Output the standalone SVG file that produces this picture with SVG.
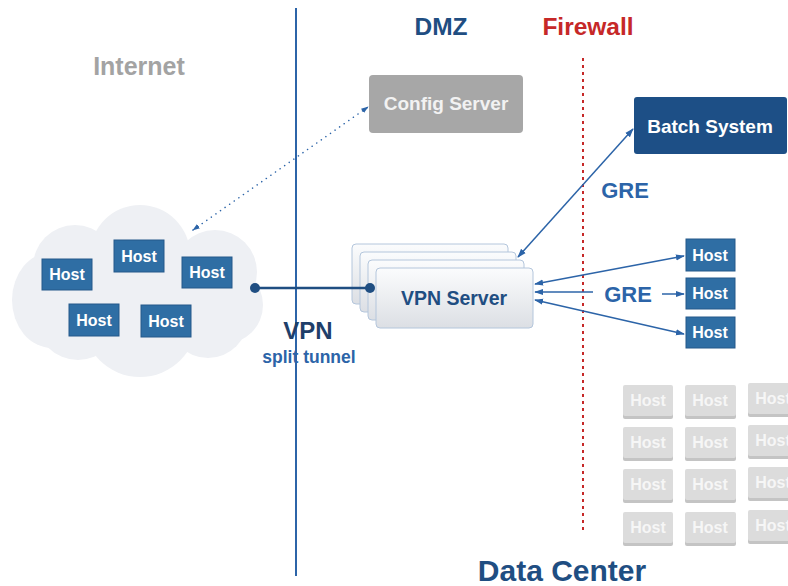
<svg xmlns="http://www.w3.org/2000/svg" width="788" height="586" viewBox="0 0 788 586">
<defs>
<style>
text{font-family:"Liberation Sans",Arial,sans-serif;font-weight:bold;text-anchor:middle}
.host rect{fill:#2f6ea4;stroke:#24598a;stroke-width:1}
.host text{fill:#fff;font-size:16px}
.ghost rect{fill:#dcdcdc}
.ghost .sh{fill:#c4c4c4}
.ghost text{fill:#f6f6f6;font-size:16px}
.conn{stroke:#2c64a8;stroke-width:1.5;fill:none}
.vpnbox{fill:url(#vg);stroke:#b4c6dc;stroke-width:1}
.cloud{fill:#eef0f4}
</style>
<linearGradient id="vg" x1="0" y1="0" x2="0" y2="1">
<stop offset="0" stop-color="#fbfcfd"/>
<stop offset="1" stop-color="#dcdfe4"/>
</linearGradient>
<marker id="ah" viewBox="0 0 10 10" refX="9" refY="5" markerWidth="6" markerHeight="6" orient="auto-start-reverse">
<path d="M0,1.5 L10,5 L0,8.5 z" fill="#2c64a8"/>
</marker>
<marker id="ahd" viewBox="0 0 10 10" refX="9" refY="5" markerWidth="5" markerHeight="5" orient="auto-start-reverse">
<path d="M0,1.5 L10,5 L0,8.5 z" fill="#2c64a8"/>
</marker>
<marker id="dot" viewBox="0 0 10 10" refX="5" refY="5" markerWidth="4" markerHeight="4">
<circle cx="5" cy="5" r="5" fill="#1f4e82"/>
</marker>
</defs>
<rect width="788" height="586" fill="#fff"/>

<g id="boundaries">
<line x1="296" y1="8" x2="296" y2="576" stroke="#2c64a8" stroke-width="2"/>
<line x1="583" y1="58" x2="583" y2="530" stroke="#c62828" stroke-width="2" stroke-dasharray="3,4"/>
</g>

<g id="labels">
<text x="139" y="75" font-size="25" fill="#a3a3a3">Internet</text>
<text x="441" y="35" font-size="24.5" fill="#1f4e82">DMZ</text>
<text x="588" y="35" font-size="24.5" fill="#c62828">Firewall</text>
<text x="562" y="581" font-size="30" fill="#1f4e82">Data Center</text>
<text x="308" y="339" font-size="24" fill="#1f3f6a">VPN</text>
<text x="309" y="363" font-size="17.5" fill="#2c64a8">split tunnel</text>
<text x="625" y="198" font-size="22" fill="#2c64a8">GRE</text>
<text x="628" y="302" font-size="22" fill="#2c64a8">GRE</text>
</g>

<g id="internet-cloud" class="cloud">
<circle cx="140" cy="255" r="50"/>
<circle cx="75" cy="267" r="42"/>
<ellipse cx="52" cy="300" rx="40" ry="48"/>
<circle cx="215" cy="272" r="42"/>
<circle cx="224" cy="305" r="39"/>
<circle cx="140" cy="320" r="57"/>
<circle cx="78" cy="318" r="42"/>
<circle cx="208" cy="318" r="40"/>
<rect x="40" y="260" width="200" height="60"/>
</g>

<g id="cloud-host-1" class="host"><rect x="42" y="259" width="50" height="31"/><text x="67" y="280">Host</text></g>
<g id="cloud-host-2" class="host"><rect x="114" y="240" width="50" height="32"/><text x="139" y="262">Host</text></g>
<g id="cloud-host-3" class="host"><rect x="182" y="257" width="50" height="31"/><text x="207" y="278">Host</text></g>
<g id="cloud-host-4" class="host"><rect x="69" y="304" width="50" height="32"/><text x="94" y="326">Host</text></g>
<g id="cloud-host-5" class="host"><rect x="141" y="305" width="50" height="32"/><text x="166" y="327">Host</text></g>

<g id="config-server">
<rect x="369" y="75" width="154" height="58" rx="4" fill="#a7a7a7"/>
<text x="446" y="110" font-size="19" fill="#f2f2f2">Config Server</text>
</g>

<g id="vpn-server">
<rect class="vpnbox" x="352" y="244" width="156" height="60" rx="4"/>
<rect class="vpnbox" x="360" y="252" width="156" height="60" rx="4"/>
<rect class="vpnbox" x="368" y="260" width="156" height="60" rx="4"/>
<rect class="vpnbox" x="376" y="268" width="157" height="60" rx="4"/>
<text x="454" y="305" font-size="19.5" fill="#1f4e82">VPN Server</text>
</g>

<g id="batch-system">
<rect x="634" y="97" width="153" height="57" rx="3" fill="#1d4f86"/>
<text x="710" y="133" font-size="19" fill="#fff">Batch System</text>
</g>

<g id="dc-host-1" class="host"><rect x="686" y="239" width="49" height="32"/><text x="710" y="261">Host</text></g>
<g id="dc-host-2" class="host"><rect x="686" y="278" width="49" height="31"/><text x="710" y="299">Host</text></g>
<g id="dc-host-3" class="host"><rect x="686" y="317" width="49" height="31"/><text x="710" y="338">Host</text></g>

<g id="idle-hosts" class="ghost">
<g><rect class="sh" x="623" y="387" width="50" height="32" rx="2"/><rect x="623" y="385" width="50" height="31" rx="2"/><text x="648" y="406">Host</text></g>
<g><rect class="sh" x="685" y="387" width="51" height="32" rx="2"/><rect x="685" y="385" width="51" height="31" rx="2"/><text x="710" y="406">Host</text></g>
<g><rect class="sh" x="748" y="385" width="50" height="32" rx="2"/><rect x="748" y="383" width="50" height="31" rx="2"/><text x="773" y="404">Host</text></g>
<g><rect class="sh" x="623" y="429" width="50" height="32" rx="2"/><rect x="623" y="427" width="50" height="31" rx="2"/><text x="648" y="448">Host</text></g>
<g><rect class="sh" x="685" y="429" width="51" height="32" rx="2"/><rect x="685" y="427" width="51" height="31" rx="2"/><text x="710" y="448">Host</text></g>
<g><rect class="sh" x="748" y="427" width="50" height="32" rx="2"/><rect x="748" y="425" width="50" height="31" rx="2"/><text x="773" y="446">Host</text></g>
<g><rect class="sh" x="623" y="471" width="50" height="32" rx="2"/><rect x="623" y="469" width="50" height="31" rx="2"/><text x="648" y="490">Host</text></g>
<g><rect class="sh" x="685" y="471" width="51" height="32" rx="2"/><rect x="685" y="469" width="51" height="31" rx="2"/><text x="710" y="490">Host</text></g>
<g><rect class="sh" x="748" y="469" width="50" height="32" rx="2"/><rect x="748" y="467" width="50" height="31" rx="2"/><text x="773" y="488">Host</text></g>
<g><rect class="sh" x="623" y="514" width="50" height="32" rx="2"/><rect x="623" y="512" width="50" height="31" rx="2"/><text x="648" y="533">Host</text></g>
<g><rect class="sh" x="685" y="514" width="51" height="32" rx="2"/><rect x="685" y="512" width="51" height="31" rx="2"/><text x="710" y="533">Host</text></g>
<g><rect class="sh" x="748" y="512" width="50" height="32" rx="2"/><rect x="748" y="510" width="50" height="31" rx="2"/><text x="773" y="531">Host</text></g>
</g>

<g id="connectors">
<line class="conn" x1="193" y1="230" x2="368" y2="107" stroke-width="2.6" stroke-dasharray="0.1,5.5" stroke-linecap="round" marker-start="url(#ahd)" marker-end="url(#ahd)"/>
<line x1="255" y1="288" x2="370" y2="288" stroke="#1f4e82" stroke-width="2.5" marker-start="url(#dot)" marker-end="url(#dot)"/>
<line class="conn" x1="518" y1="257" x2="633" y2="129" marker-start="url(#ah)" marker-end="url(#ah)"/>
<line class="conn" x1="535" y1="284" x2="684" y2="256" marker-start="url(#ah)" marker-end="url(#ah)"/>
<line class="conn" x1="535" y1="292" x2="593" y2="292" marker-start="url(#ah)"/>
<line class="conn" x1="662" y1="294" x2="684" y2="294" marker-end="url(#ah)"/>
<line class="conn" x1="535" y1="300" x2="684" y2="334" marker-start="url(#ah)" marker-end="url(#ah)"/>
</g>
</svg>
